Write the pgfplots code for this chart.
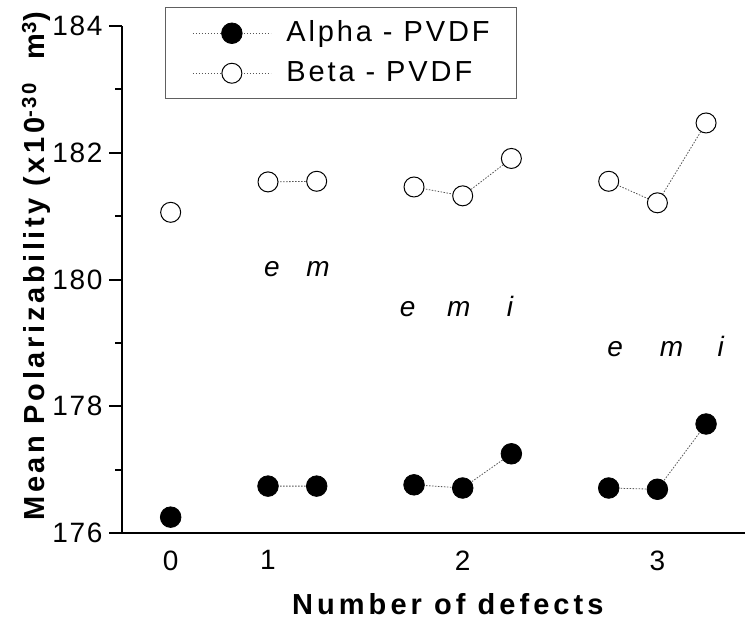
\documentclass[border=0pt]{standalone}
\usepackage{fontspec}
\setmainfont{Liberation Sans}
\newfontfamily\labfont[LetterSpace=14]{Liberation Sans}
\newfontfamily\ylabfont[LetterSpace=12.5]{Liberation Sans}
\newfontfamily\legfont[LetterSpace=10]{Liberation Sans}
\newfontfamily\tickfont[LetterSpace=6]{Liberation Sans}
\usepackage{pgfplots}
\pgfplotsset{compat=1.18}
\definecolor{linegray}{HTML}{555555}
\definecolor{boxgray}{HTML}{606060}

\begin{document}
\begin{tikzpicture}
\begin{axis}[
  scale only axis,
  width=623bp, height=507bp,
  xmin=-1, xmax=11.8, ymin=176, ymax=184,
  axis x line=bottom, axis y line=left,
  axis line style={-, line width=2bp},
  xtick={0,2,6,10}, xticklabels={0,1,2,3},
  xtick style={draw=none},
  ytick={176,178,180,182,184},
  minor ytick={177,179,181,183},
  tick align=outside,
  major tick length=13bp, minor tick length=7bp,
  every tick/.style={line width=2bp, black},
  /pgf/number format/assume math mode=true,
  ticklabel style={font=\tickfont\fontsize{28bp}{32bp}\selectfont},
  xticklabel style={yshift=-1bp},
  yticklabel style={xshift=-3bp},
  unbounded coords=jump,
  xlabel={\bfseries Number of defects},
  xlabel style={font=\labfont\fontsize{29bp}{33bp}\selectfont,
    at={(axis description cs:0.523,-0.1617)}, anchor=base},
  ylabel={\bfseries Mean Polarizability (x10\textsuperscript{-30}\ \ m\textsuperscript{3})},
  ylabel style={font=\ylabfont\fontsize{29bp}{33bp}\selectfont,
    at={(axis description cs:-0.1236,0.526)}, anchor=base, rotate=0},
  legend style={draw=boxgray, line width=1bp, fill=white,
    at={(axis description cs:0.069,1.037)}, anchor=north west,
    font=\legfont\fontsize{29bp}{34bp}\selectfont,
    inner xsep=27bp, inner ysep=12bp, row sep=13bp,
    nodes={inner sep=0pt, text height=22bp, text depth=5bp},
    /tikz/every odd column/.append style={column sep=15bp},
    cells={anchor=west}},
  legend image code/.code={
    \draw[mark repeat=2, mark phase=2, #1]
      plot coordinates {(0bp,0bp) (39bp,0bp) (78bp,0bp)};},
]
\addplot[linegray, line width=0.8bp, dash pattern=on 1.5bp off 1.5bp,
  mark=*, mark size=10.3bp, mark options={solid, fill=black, draw=black}]
  coordinates {
  (0,176.25) (1,nan)
  (2,176.74) (3,176.74) (4,nan)
  (5,176.76) (6,176.71) (7,177.25) (8,nan)
  (9,176.71) (10,176.69) (11,177.72)
};
\addlegendentry{Alpha - PVDF}
\addplot[linegray, line width=0.8bp, dash pattern=on 1.5bp off 1.5bp,
  mark=*, mark size=10bp, mark options={solid, fill=white, draw=black, line width=1bp}]
  coordinates {
  (0,181.06) (1,nan)
  (2,181.54) (3,181.55) (4,nan)
  (5,181.46) (6,181.32) (7,181.91) (8,nan)
  (9,181.55) (10,181.21) (11,182.47)
};
\addlegendentry{Beta - PVDF}
\begin{scope}[every node/.style={font=\fontsize{28bp}{32bp}\selectfont\itshape, anchor=base}]
\node at (axis cs:2.08,180.05) {e};
\node at (axis cs:3.03,180.05) {m};
\node at (axis cs:4.87,179.41) {e};
\node at (axis cs:5.92,179.41) {m};
\node at (axis cs:6.97,179.41) {i};
\node at (axis cs:9.13,178.78) {e};
\node at (axis cs:10.29,178.78) {m};
\node at (axis cs:11.30,178.78) {i};
\end{scope}
\end{axis}
\pgfresetboundingbox
\useasboundingbox (-122bp,-95bp) rectangle (623bp,533bp);
\end{tikzpicture}
\end{document}
